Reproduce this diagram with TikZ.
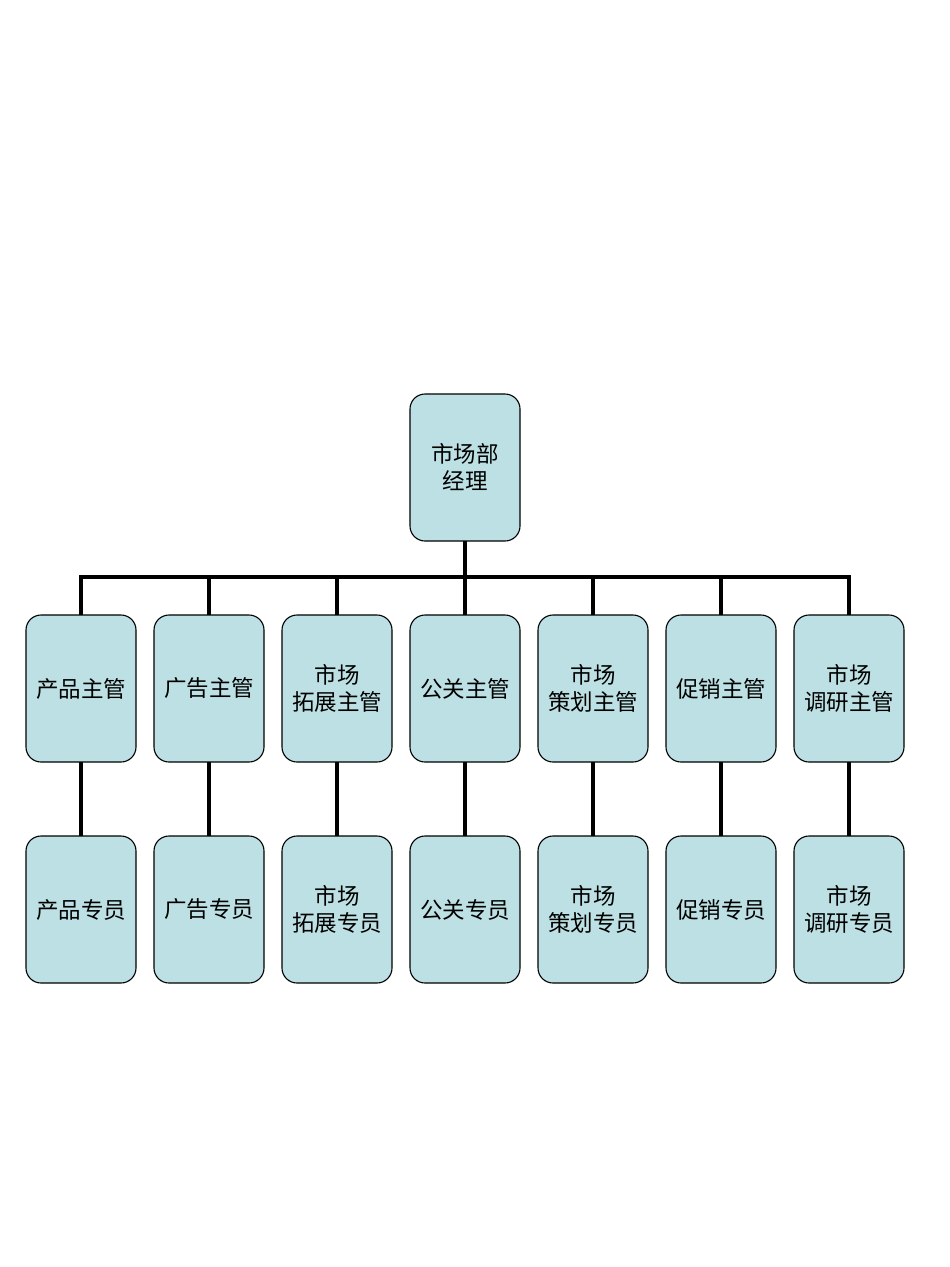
\documentclass[tikz,border=0pt]{standalone}
\usepackage{fontspec}
\setmainfont{Noto Sans CJK SC}
\usetikzlibrary{positioning}
\definecolor{boxfill}{RGB}{188,224,227}

\begin{document}
\begin{tikzpicture}[x=1pt, y=-1pt,
		box/.style={rectangle, rounded corners=15pt, draw=black, line width=1.1pt, fill=boxfill, outer sep=0pt,
			inner xsep=2pt, minimum width=110pt, minimum height=147pt, align=center, font=\fontsize{22.5}{27}\selectfont},
		link/.style={line width=3.6pt}
	]
	\useasboundingbox (0,0) rectangle (950,1267);
	\node[box] (s4) at (465,688.5) {公关主管};
	\node[box] (s3) [left=18pt of s4] {市场\\拓展主管};
	\node[box] (s2) [left=18pt of s3] {广告主管};
	\node[box] (s1) [left=18pt of s2] {产品主管};
	\node[box] (s5) [right=18pt of s4] {市场\\策划主管};
	\node[box] (s6) [right=18pt of s5] {促销主管};
	\node[box] (s7) [right=18pt of s6] {市场\\调研主管};
	\node[box] (mgr) [above=74pt of s4] {市场部\\经理};
	\node[box] (e1) [below=74pt of s1] {产品专员};
	\node[box] (e2) [below=74pt of s2] {广告专员};
	\node[box] (e3) [below=74pt of s3] {市场\\拓展专员};
	\node[box] (e4) [below=74pt of s4] {公关专员};
	\node[box] (e5) [below=74pt of s5] {市场\\策划专员};
	\node[box] (e6) [below=74pt of s6] {促销专员};
	\node[box] (e7) [below=74pt of s7] {市场\\调研专员};
	\begin{scope}[link]
	\foreach \i in {1,...,7} {
		\draw (mgr.south) -- ++(0,36) -| (s\i.north);
		\draw (s\i.south) -- (e\i.north);
	}
	\end{scope}
\end{tikzpicture}
\end{document}
